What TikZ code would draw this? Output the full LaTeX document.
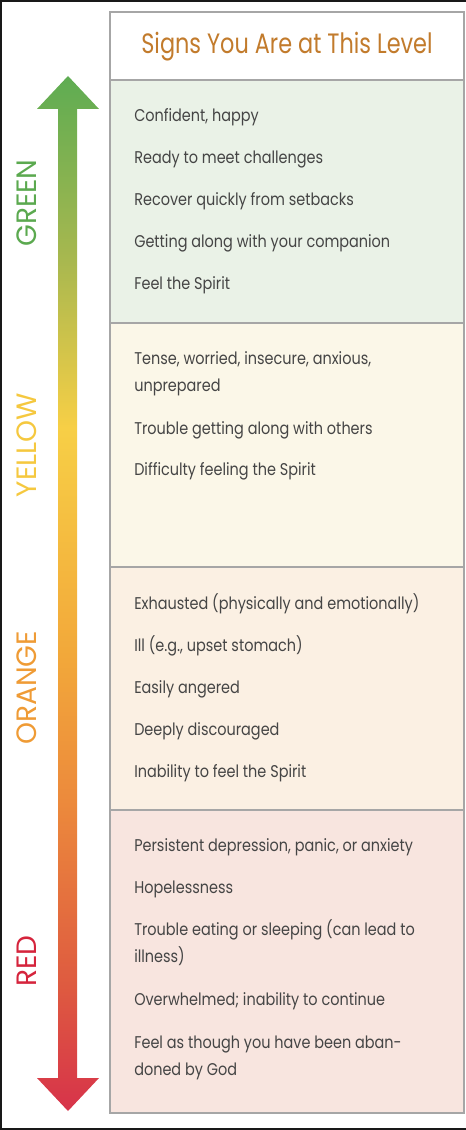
\documentclass[tikz,border=0pt]{standalone}
\usepackage{fontspec}
\setmainfont{Poppins}[FakeStretch=0.85]
\newfontfamily\headfont{Poppins}[FakeStretch=0.8]
\newfontfamily\labelfont{Poppins}
\definecolor{bggreen}{HTML}{EAF2E7}
\definecolor{bgyellow}{HTML}{FBF7E8}
\definecolor{bgorange}{HTML}{FBF0E3}
\definecolor{bgred}{HTML}{F8E5DF}
\definecolor{gridgray}{HTML}{A6A6A6}
\definecolor{txt}{HTML}{454545}
\definecolor{headcol}{HTML}{C27B2C}
\definecolor{labgreen}{HTML}{5BA94F}
\definecolor{labyellow}{HTML}{F5C83F}
\definecolor{laborange}{HTML}{EF9B35}
\definecolor{labred}{HTML}{D5243C}
\definecolor{sgreen}{HTML}{5EAC52}
\definecolor{sygreen}{HTML}{A9B84F}
\definecolor{syellow}{HTML}{F7CF46}
\definecolor{sorange}{HTML}{F2A83A}
\definecolor{sdorange}{HTML}{EC8A3C}
\definecolor{sored}{HTML}{DE5A40}
\definecolor{sred}{HTML}{D7334A}
\pgfdeclareverticalshading{levelshade}{100bp}{color(0bp)=(sred); color(25bp)=(sred); color(31bp)=(sored); color(40bp)=(sdorange); color(47bp)=(sorange); color(58bp)=(syellow); color(66bp)=(sygreen); color(75bp)=(sgreen); color(100bp)=(sgreen)}
\tikzset{
  item/.style={anchor=base west, inner sep=0pt, text=txt, font=\fontsize{12.75pt}{15pt}\selectfont},
  levellabel/.style={rotate=90, inner sep=0pt, font=\labelfont\fontsize{21pt}{24pt}\selectfont},
  sect/.style={draw=gridgray, line width=1.1pt},
}
\begin{document}
\begin{tikzpicture}[x=0.75pt,y=-0.75pt]
\useasboundingbox (0,0) rectangle (466,1130);
% outer frame
\draw[line width=1.5pt, black!90] (1,1) rectangle (475,1129);
% table sections
\filldraw[sect, fill=white] (110,12) rectangle (464,80);
\filldraw[sect, fill=bggreen] (110,80) rectangle (464,323);
\filldraw[sect, fill=bgyellow] (110,323) rectangle (464,567);
\filldraw[sect, fill=bgorange] (110,567) rectangle (464,810);
\filldraw[sect, fill=bgred] (110,810) rectangle (464,1113);
% header
\node[inner sep=0pt, text=headcol, font=\headfont\fontsize{21pt}{24pt}\selectfont] (head) at (287,47) {Signs You Are at This Level};
% arrow
\shade[shading=levelshade] (58,109) -- (37,109) -- (68,76) -- (99,109) -- (77,109) -- (77,1078) -- (99,1078) -- (68,1111) -- (37,1078) -- (58,1078) -- cycle;
% level labels
\node[levellabel, text=labgreen] (lgreen) at (27,203) {GREEN};
\node[levellabel, text=labyellow] (lyellow) at (27,445) {YELLOW};
\node[levellabel, text=laborange] (lorange) at (27,688) {ORANGE};
\node[levellabel, text=labred] (lred) at (27,961) {RED};
% green items
\node[item] (g1) at (134,122) {Confident, happy};
\node[item] (g2) at (134,164) {Ready to meet challenges};
\node[item] (g3) at (134,206) {Recover quickly from setbacks};
\node[item] (g4) at (134,248) {Getting along with your companion};
\node[item] (g5) at (134,290) {Feel the Spirit};
% yellow items
\node[item] (y1) at (134,364) {Tense, worried, insecure, anxious,};
\node[item] (y1b) at (134,391) {unprepared};
\node[item] (y2) at (134,434) {Trouble getting along with others};
\node[item] (y3) at (134,475) {Difficulty feeling the Spirit};
% orange items
\node[item] (o1) at (134,609) {Exhausted (physically and emotionally)};
\node[item] (o2) at (134,651) {Ill (e.g., upset stomach)};
\node[item] (o3) at (134,693) {Easily angered};
\node[item] (o4) at (134,735) {Deeply discouraged};
\node[item] (o5) at (134,777) {Inability to feel the Spirit};
% red items
\node[item] (r1) at (134,851) {Persistent depression, panic, or anxiety};
\node[item] (r2) at (134,893) {Hopelessness};
\node[item] (r3) at (134,935) {Trouble eating or sleeping (can lead to};
\node[item] (r3b) at (134,962) {illness)};
\node[item] (r4) at (134,1005) {Overwhelmed; inability to continue};
\node[item] (r5) at (134,1048) {Feel as though you have been aban-};
\node[item] (r5b) at (134,1075) {doned by God};
\end{tikzpicture}
\end{document}
